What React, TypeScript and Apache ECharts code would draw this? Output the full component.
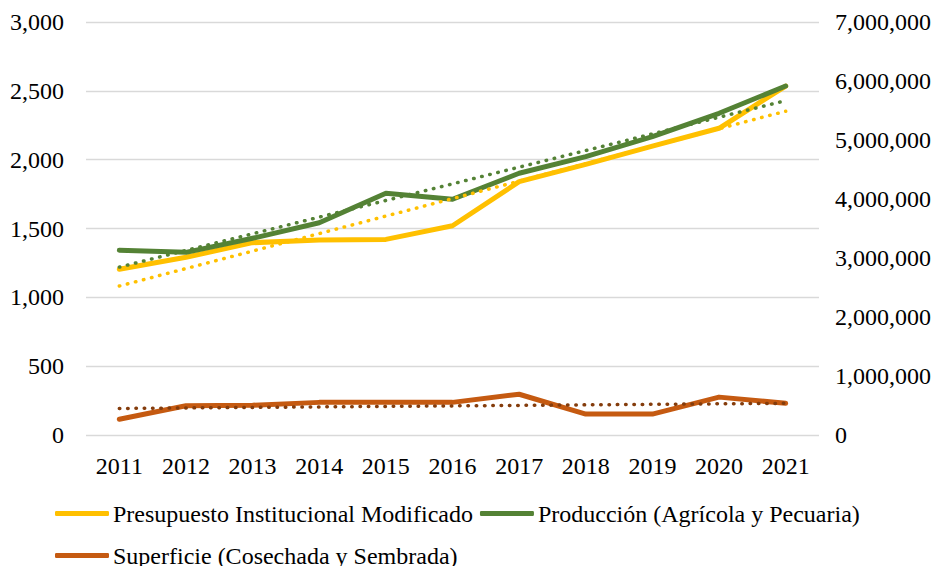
import React, { useEffect, useRef } from "react";
import * as echarts from "echarts";

const years = ["2011", "2012", "2013", "2014", "2015", "2016", "2017", "2018", "2019", "2020", "2021"];

const presupuesto = [1204, 1291, 1397, 1416, 1421, 1520, 1840, 1966, 2099, 2228, 2535];
const produccion = [3131000, 3096000, 3334000, 3598000, 4097000, 3995000, 4436000, 4718000, 5056000, 5453000, 5915000];
const superficie = [266000, 497000, 504000, 553000, 553000, 553000, 691000, 355000, 355000, 642000, 537000];

// trend line end values (first year, last year)
const presupuestoTrend = [1082, 2352];
const produccionTrend = [2846000, 5668000];
const superficieTrend = [450000, 537000];

const leftTicks = { min: 0, max: 3000, interval: 500 };
const rightTicks = { min: 0, max: 7000000, interval: 1000000 };

const names = [
  "Presupuesto Institucional Modificado",
  "Producción (Agrícola y Pecuaria)",
  "Superficie (Cosechada y Sembrada)",
];

const FONT = "'Liberation Serif', 'Times New Roman', serif";
const C_YELLOW = "#FFC000";
const C_GREEN = "#548235";
const C_ORANGE = "#C55A11";
const C_BROWN = "#843C0C";

const fmt = (v: number) => v.toLocaleString("en-US");

export default function App() {
  const ref = useRef<HTMLDivElement>(null);
  useEffect(() => {
    if (!ref.current) return;
    const chart = echarts.init(ref.current, undefined, { renderer: "svg" });
    const last = years.length - 1;
    const trend = (vals: number[]) => [
      [0, vals[0]],
      [last, vals[1]],
    ];
    const dotted = (color: string) => ({
      color,
      width: 3.5,
      type: [0.5, 7.8] as number[],
      cap: "round" as const,
    });
    chart.setOption({
      animation: false,
      backgroundColor: "#fff",
      textStyle: { fontFamily: FONT },
      grid: { left: 86, right: 121, top: 22, bottom: 131, containLabel: false },
      legend: {
        left: 50,
        top: 491,
        width: 826,
        itemGap: 7,
        itemWidth: 54,
        itemHeight: 5,
        icon: "roundRect",
        data: names,
        textStyle: { fontFamily: FONT, fontSize: 24, color: "#000", lineHeight: 35, padding: [0, 0, 0, -1] },
      },
      xAxis: {
        type: "category",
        data: years,
        boundaryGap: true,
        axisLine: { show: false },
        axisTick: { show: false },
        axisLabel: { fontFamily: FONT, fontSize: 24, color: "#000", margin: 19 },
      },
      yAxis: [
        {
          type: "value",
          ...leftTicks,
          axisLine: { show: false },
          axisTick: { show: false },
          splitLine: { lineStyle: { color: "#d9d9d9", width: 1.3 } },
          axisLabel: { fontFamily: FONT, fontSize: 24, color: "#000", margin: 22, formatter: fmt },
        },
        {
          type: "value",
          ...rightTicks,
          position: "right",
          axisLine: { show: false },
          axisTick: { show: false },
          splitLine: { show: false },
          axisLabel: { fontFamily: FONT, fontSize: 24, color: "#000", margin: 16, formatter: fmt },
        },
      ],
      series: [
        {
          name: names[0],
          type: "line",
          yAxisIndex: 0,
          data: presupuesto,
          symbol: "none",
          color: C_YELLOW,
          lineStyle: { color: C_YELLOW, width: 5, cap: "round", join: "round" },
        },
        {
          name: names[1],
          type: "line",
          yAxisIndex: 1,
          data: produccion,
          symbol: "none",
          color: C_GREEN,
          lineStyle: { color: C_GREEN, width: 5, cap: "round", join: "round" },
        },
        {
          name: names[2],
          type: "line",
          yAxisIndex: 1,
          data: superficie,
          symbol: "none",
          color: C_ORANGE,
          lineStyle: { color: C_ORANGE, width: 5, cap: "round", join: "round" },
        },
        {
          name: "trend1",
          type: "line",
          yAxisIndex: 0,
          data: trend(presupuestoTrend),
          symbol: "none",
          silent: true,
          lineStyle: dotted(C_YELLOW),
        },
        {
          name: "trend2",
          type: "line",
          yAxisIndex: 1,
          data: trend(produccionTrend),
          symbol: "none",
          silent: true,
          lineStyle: dotted(C_GREEN),
        },
        {
          name: "trend3",
          type: "line",
          yAxisIndex: 1,
          data: trend(superficieTrend),
          symbol: "none",
          silent: true,
          lineStyle: dotted(C_BROWN),
        },
      ],
    });
    return () => chart.dispose();
  }, []);
  return (
    <div
      ref={ref}
      style={{ position: "fixed", left: 0, top: 0, width: 940, height: 566, background: "#fff" }}
    />
  );
}
